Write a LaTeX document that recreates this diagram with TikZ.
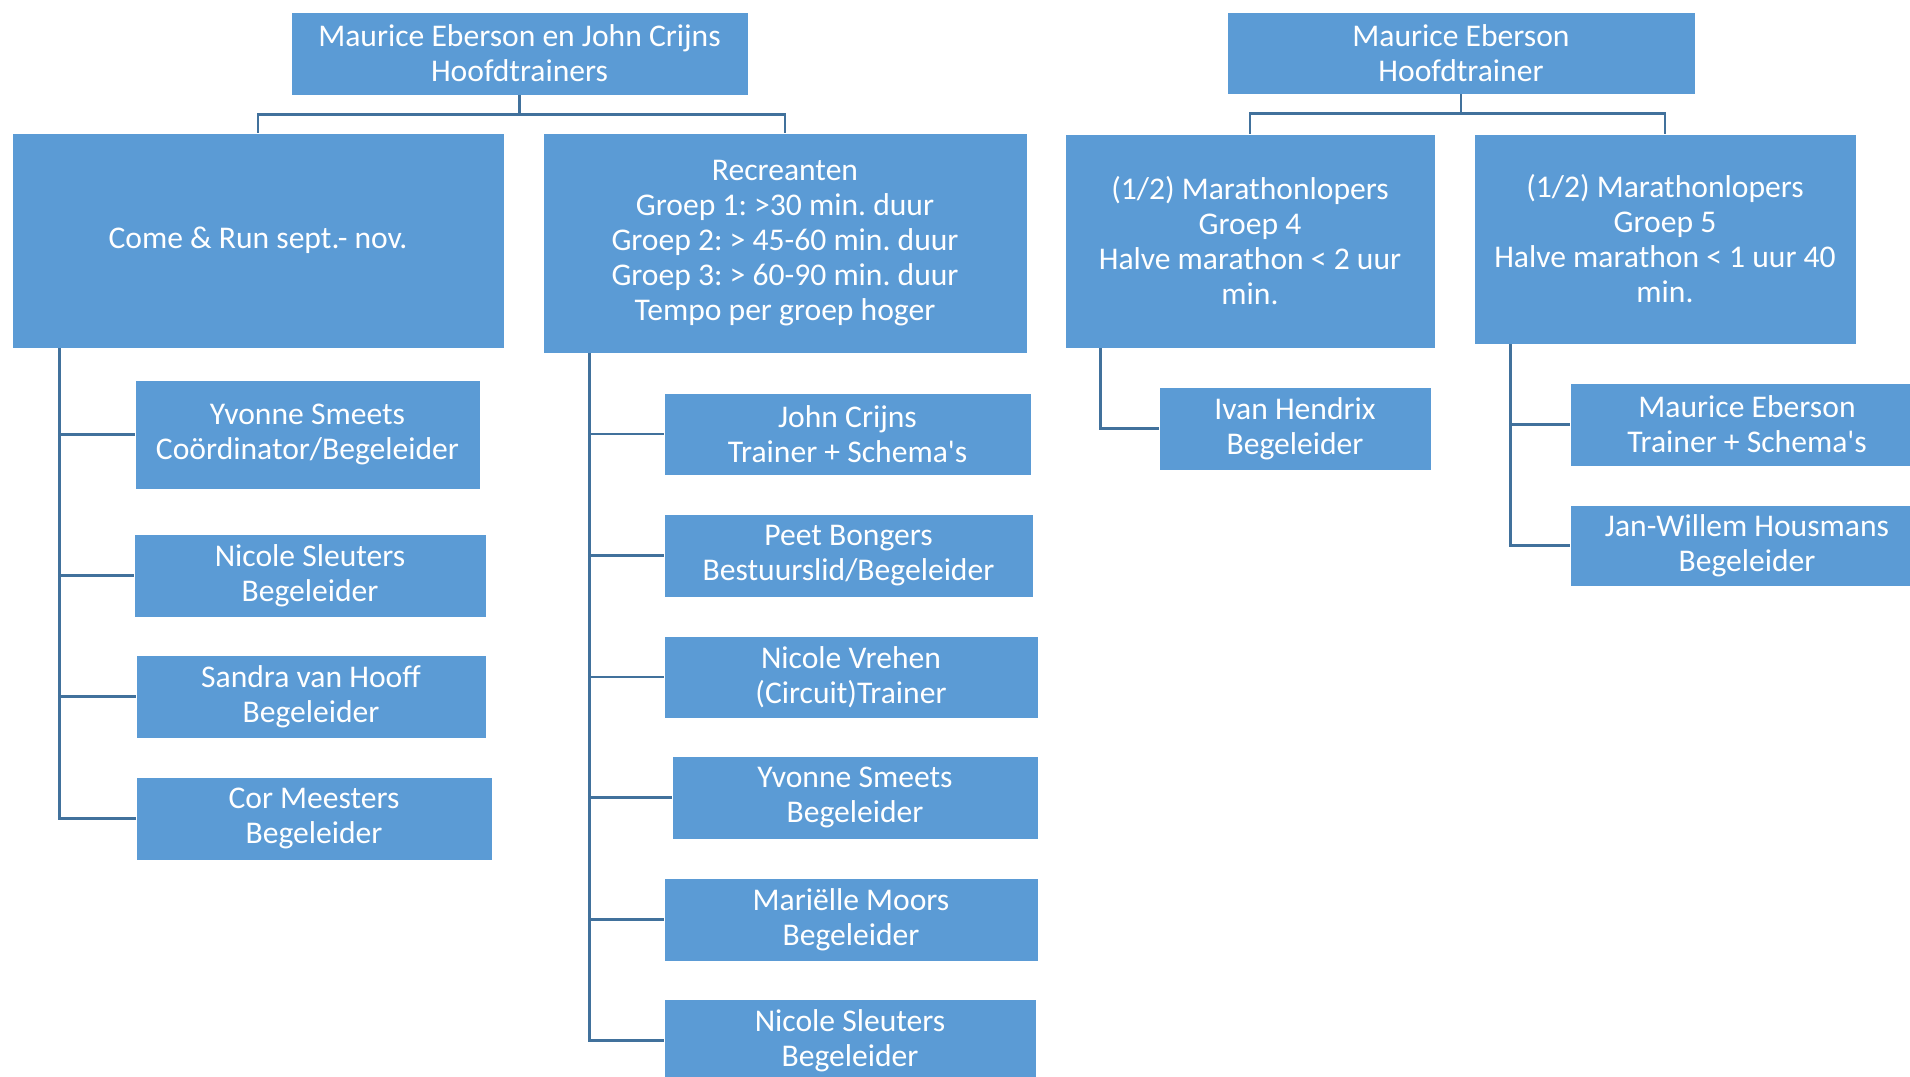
\documentclass[tikz,border=0pt]{standalone}
\usepackage{fontspec}
\setmainfont{Carlito}[Ligatures=TeXOff]
\usetikzlibrary{calc}
\definecolor{boxblue}{HTML}{5B9BD5}
\definecolor{connblue}{HTML}{41719C}
\tikzset{
  box/.style={fill=boxblue, draw=white, line width=0.4pt, text=white, align=center, inner sep=0pt,
    font={\fontsize{15.8}{17.5}\selectfont}},
  conn/.style={draw=connblue, line width=1.4pt}
}
\newcommand\mybox[6]{\node[box, minimum width=#4*0.5pt, minimum height=#5*0.5pt] (#1) at (#2,#3) {#6};}
\begin{document}
\frenchspacing
\begin{tikzpicture}[x=0.5pt, y=-0.5pt]
\useasboundingbox (0,0) rectangle (1910,1076);
\clip (0,0) rectangle (1910,1076);
\fill[white] (0,0) rectangle (1910,1076);
% top level
\mybox{t1}{519.5}{53.5}{457}{83}{Maurice Eberson en John Crijns\\Hoofdtrainers}
\mybox{t2}{1461}{53}{468}{82}{Maurice Eberson\\Hoofdtrainer}
% groups
\mybox{cr}{258}{240.5}{492}{215}{Come \& Run sept.- nov.}
\mybox{rc}{785}{243}{484}{220}{Recreanten\\Groep 1: >30 min. duur\\Groep 2: > 45-60 min. duur\\Groep 3: > 60-90 min. duur\\Tempo per groep hoger}
\mybox{g4}{1250}{241}{370}{214}{(1/2) Marathonlopers\\Groep 4\\Halve marathon < 2 uur\\min.}
\mybox{g5}{1665}{239}{382}{210}{(1/2) Marathonlopers\\Groep 5\\Halve marathon < 1 uur 40\\min.}
% Come & Run children
\mybox{ys1}{307.5}{434.5}{345}{109}{Yvonne Smeets\\Coördinator/Begeleider}
\mybox{ns1}{310}{575.5}{352}{83}{Nicole Sleuters\\Begeleider}
\mybox{sh}{311}{696.5}{350}{83}{Sandra van Hooff\\Begeleider}
\mybox{cm}{314}{818.5}{356}{83}{Cor Meesters\\Begeleider}
% Recreanten children
\mybox{jc}{847.5}{434}{367}{82}{John Crijns\\Trainer + Schema's}
\mybox{pb}{848.5}{555.5}{369}{83}{Peet Bongers\\Bestuurslid/Begeleider}
\mybox{nv}{851}{677}{374}{82}{Nicole Vrehen\\(Circuit)Trainer}
\mybox{ys2}{855}{797.5}{366}{83}{Yvonne Smeets\\Begeleider}
\mybox{mm}{851}{919.5}{374}{83}{Mariëlle Moors\\Begeleider}
\mybox{ns2}{850}{1040.5}{372}{83}{Nicole Sleuters\\Begeleider}
% Marathon children
\mybox{ih}{1295}{428.5}{272}{83}{Ivan Hendrix\\Begeleider}
\mybox{me}{1747}{424.5}{354}{83}{Maurice Eberson\\Trainer + Schema's}
\mybox{jw}{1747}{545.5}{354}{81}{Jan-Willem Housmans\\Begeleider}
% top connectors
\draw[conn] (t1.south) -- ++(0,19) -| (cr.north);
\draw[conn] (t1.south) -- ++(0,19) -| (rc.north);
\draw[conn] (t2.south) -- ++(0,19) -| (g4.north);
\draw[conn] (t2.south) -- ++(0,19) -| (g5.north);
% trunks
\foreach \c in {ys1,ns1,sh,cm} \draw[conn] ($(cr.south west)+(48,0)$) |- (\c.west);
\foreach \c in {jc,pb,nv,ys2,mm,ns2} \draw[conn] ($(rc.south west)+(47,0)$) |- (\c.west);
\draw[conn] ($(g4.south west)+(36,0)$) |- (ih.west);
\foreach \c in {me,jw} \draw[conn] ($(g5.south west)+(37,0)$) |- (\c.west);
\end{tikzpicture}
\end{document}
